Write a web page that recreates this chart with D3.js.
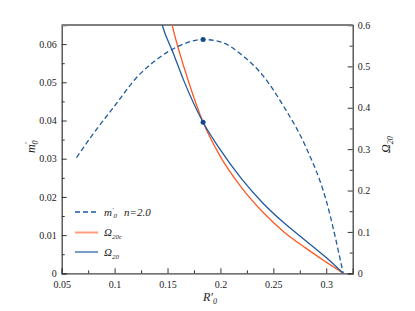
<!DOCTYPE html>
<html>
<head>
<meta charset="utf-8">
<script src="https://cdn.jsdelivr.net/npm/d3@7"></script>
<style>
  body { margin: 0; background: #fff; }
  svg text { font-family: "Liberation Serif", "DejaVu Serif", serif; fill: #222; }
</style>
</head>
<body>
<svg id="chart" width="415" height="311"></svg>
<script>
// m'0 for n = 2.0 (left axis)
const mR = [0.064, 0.08, 0.10, 0.12, 0.14, 0.16, 0.1836, 0.20, 0.22, 0.24, 0.26, 0.28, 0.30, 0.316];
const mVal = [0.0303, 0.0366, 0.0438, 0.0510, 0.0560, 0.0594, 0.0612, 0.0606, 0.0572, 0.0518, 0.0436, 0.0335, 0.0190, 0.0];

// Omega_20c (right axis)
const ocR = [0.152, 0.1543, 0.1694, 0.1836, 0.20, 0.22, 0.24, 0.26, 0.28, 0.30, 0.316];
const ocVal = [0.625, 0.6, 0.467, 0.365, 0.282, 0.207, 0.148, 0.100, 0.062, 0.027, 0.0];

// Omega_20 (right axis)
const oR = [0.142, 0.145, 0.155, 0.165, 0.1836, 0.20, 0.22, 0.24, 0.26, 0.28, 0.30, 0.316];
const oVal = [0.63, 0.6, 0.535, 0.468, 0.365, 0.298, 0.228, 0.170, 0.122, 0.080, 0.038, 0.0];

// marked points
const peakPt = { r: 0.1836, m: 0.0612 };
const crossPt = { r: 0.1836, o: 0.365 };

const xTicks = [0.05, 0.1, 0.15, 0.2, 0.25, 0.3];
const yLeftTicks = [0, 0.01, 0.02, 0.03, 0.04, 0.05, 0.06];
const yRightTicks = [0, 0.1, 0.2, 0.3, 0.4, 0.5, 0.6];

const blue = '#1f5aa0';
const orange = '#ff5a26';
const serif = '"Liberation Serif", "DejaVu Serif", serif';

const pLeft = 61.7, pRight = 352.7, pTop = 25, pBottom = 273.3;
const svg = d3.select('#chart');

const x = d3.scaleLinear().domain([0.05, 0.325]).range([pLeft, pRight]);
const yL = d3.scaleLinear().domain([0, 0.065]).range([pBottom, pTop]);
const yR = d3.scaleLinear().domain([0, 0.6]).range([pBottom, pTop]);

const fmt = (d) => (d === 0 ? '0' : String(+d.toFixed(3)));

svg.append('defs').append('clipPath').attr('id', 'plot-clip')
  .append('rect').attr('x', pLeft).attr('y', pTop).attr('width', pRight - pLeft).attr('height', pBottom - pTop);

// minor ticks
const minorX = d3.range(0.075, 0.325, 0.05);
svg.append('g').attr('transform', `translate(0,${pBottom})`)
  .call(d3.axisBottom(x).tickValues(minorX).tickSize(-3).tickFormat(''))
  .call((g) => g.select('.domain').remove());
svg.append('g').attr('transform', `translate(${pLeft},0)`)
  .call(d3.axisLeft(yL).tickValues(d3.range(0.005, 0.065, 0.01)).tickSize(-3).tickFormat(''))
  .call((g) => g.select('.domain').remove());
svg.append('g').attr('transform', `translate(${pRight},0)`)
  .call(d3.axisRight(yR).tickValues(d3.range(0.05, 0.6, 0.1)).tickSize(-3).tickFormat(''))
  .call((g) => g.select('.domain').remove());

// major axes
svg.append('g').attr('transform', `translate(0,${pBottom})`)
  .call(d3.axisBottom(x).tickValues(xTicks).tickSize(-5).tickPadding(8).tickFormat(fmt));
svg.append('g').attr('transform', `translate(${pLeft},0)`)
  .call(d3.axisLeft(yL).tickValues(yLeftTicks).tickSize(-5).tickPadding(5).tickFormat(fmt));
svg.append('g').attr('transform', `translate(${pRight},0)`)
  .call(d3.axisRight(yR).tickValues(yRightTicks).tickSize(-5).tickPadding(5).tickFormat(fmt));

svg.selectAll('g').attr('font-family', serif);
svg.selectAll('.tick text').style('font-size', '10px').style('font-family', serif).attr('fill', '#222');
svg.selectAll('.tick line').attr('stroke', '#333');
svg.selectAll('.domain').attr('stroke', '#444').attr('stroke-width', 1.3);

// top frame
svg.append('line').attr('x1', pLeft).attr('x2', pRight).attr('y1', pTop).attr('y2', pTop)
  .attr('stroke', '#7f7f7f').attr('stroke-width', 2);

const plot = svg.append('g').attr('clip-path', 'url(#plot-clip)');

const lineM = d3.line().x((d) => x(d[0])).y((d) => yL(d[1])).curve(d3.curveMonotoneX);
const lineO = d3.line().x((d) => x(d[0])).y((d) => yR(d[1])).curve(d3.curveMonotoneX);

plot.append('path').datum(d3.zip(ocR, ocVal)).attr('d', lineO)
  .attr('fill', 'none').attr('stroke', orange).attr('stroke-width', 1.3);
plot.append('path').datum(d3.zip(oR, oVal)).attr('d', lineO)
  .attr('fill', 'none').attr('stroke', blue).attr('stroke-width', 1.3);
plot.append('path').datum(d3.zip(mR, mVal)).attr('d', lineM)
  .attr('fill', 'none').attr('stroke', blue).attr('stroke-width', 1.3).attr('stroke-dasharray', '5,3');

svg.append('circle').attr('cx', x(peakPt.r)).attr('cy', yL(peakPt.m)).attr('r', 2.5).attr('fill', '#134a8c');
svg.append('circle').attr('cx', x(crossPt.r)).attr('cy', yR(crossPt.o)).attr('r', 2.5).attr('fill', '#134a8c');

// legend
const leg = svg.append('g');
const legY = [212, 232.5, 252];
leg.append('line').attr('x1', 75).attr('x2', 98).attr('y1', legY[0]).attr('y2', legY[0])
  .attr('stroke', blue).attr('stroke-width', 1.3).attr('stroke-dasharray', '5,3');
leg.append('line').attr('x1', 75).attr('x2', 98).attr('y1', legY[1]).attr('y2', legY[1])
  .attr('stroke', orange).attr('stroke-width', 2).attr('stroke-opacity', 0.6);
leg.append('line').attr('x1', 75).attr('x2', 98).attr('y1', legY[2]).attr('y2', legY[2])
  .attr('stroke', blue).attr('stroke-width', 2).attr('stroke-opacity', 0.6);

const t1 = leg.append('text').attr('x', 104).attr('y', legY[0] + 3.5).style('font-size', '11px').style('font-style', 'italic');
t1.append('tspan').text('m');
t1.append('tspan').attr('dy', -3.5).style('font-size', '7px').text('′');
t1.append('tspan').attr('dy', 6).style('font-size', '7px').text('0');
leg.append('text').attr('x', 124).attr('y', legY[0] + 3.5).style('font-size', '11px').style('font-style', 'italic')
  .text('n=2.0');

const t2 = leg.append('text').attr('x', 104).attr('y', legY[1] + 3.5).style('font-size', '11px').style('font-style', 'italic');
t2.append('tspan').text('Ω');
t2.append('tspan').attr('dy', 3).style('font-size', '7px').text('20c');

const t3 = leg.append('text').attr('x', 104).attr('y', legY[2] + 3.5).style('font-size', '11px').style('font-style', 'italic');
t3.append('tspan').text('Ω');
t3.append('tspan').attr('dy', 3).style('font-size', '7px').text('20');

// axis titles
const xt = svg.append('text').attr('x', 203).attr('y', 301).style('font-size', '12px').style('font-style', 'italic');
xt.append('tspan').text('R′');
xt.append('tspan').attr('dy', 3).style('font-size', '8px').text('0');

const ylt = svg.append('text').attr('transform', 'translate(35,153) rotate(-90)').style('font-size', '12px').style('font-style', 'italic');
ylt.append('tspan').text('m');
ylt.append('tspan').attr('dy', -4).style('font-size', '8px').text('′');
ylt.append('tspan').attr('dx', -2).attr('dy', 7).style('font-size', '8px').text('0');

const yrt = svg.append('text').attr('transform', 'translate(390,153) rotate(-90)').style('font-size', '12px').style('font-style', 'italic');
yrt.append('tspan').text('Ω');
yrt.append('tspan').attr('dy', 3).style('font-size', '8px').text('20');
</script>
</body>
</html>
